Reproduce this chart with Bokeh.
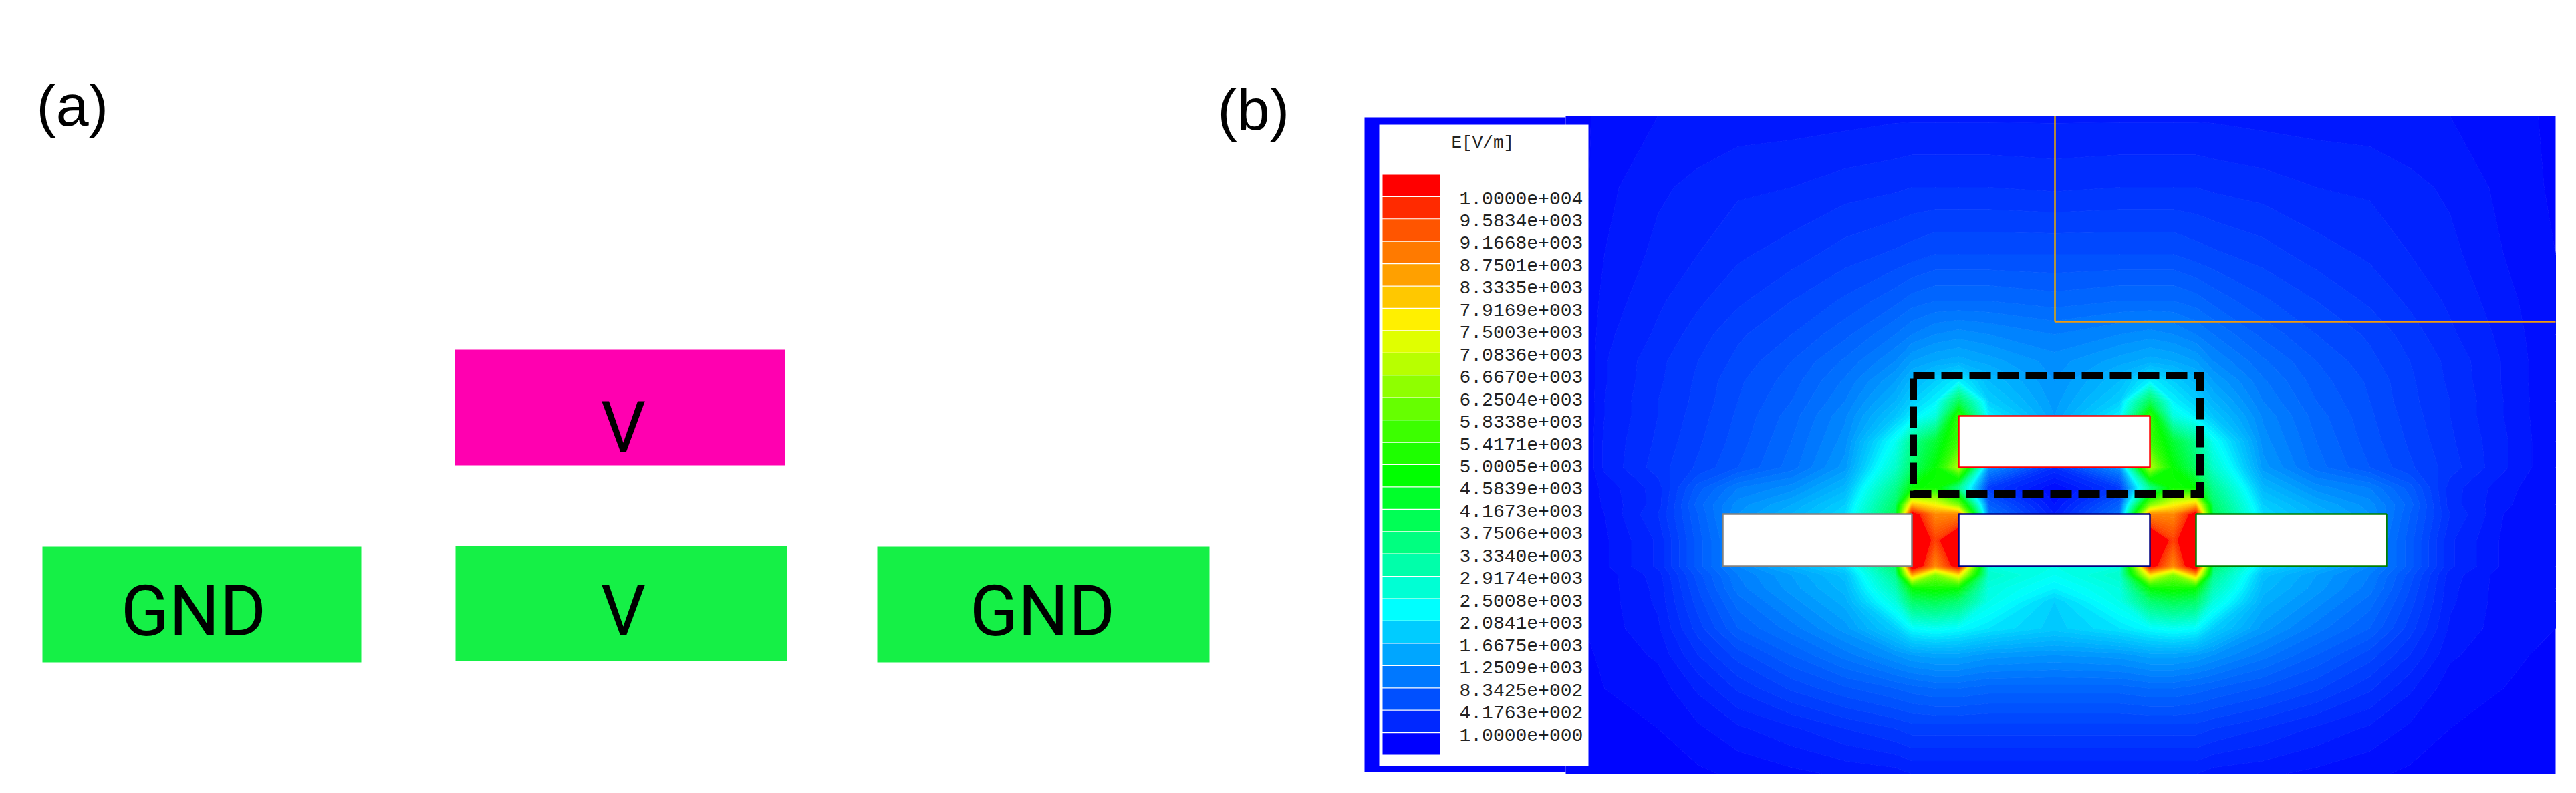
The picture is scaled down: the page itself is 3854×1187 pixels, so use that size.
from bokeh.core.properties import value
from bokeh.embed import file_html
from bokeh.plotting import figure
from bokeh.resources import INLINE
import numpy as np

# panel (a), electrode layout
a_names = ["V", "GND", "V", "GND"]
a_left = [680, 63, 681, 1312]
a_right = [1174, 540, 1177, 1809]
a_top = [523, 818, 817, 818]
a_bottom = [696, 991, 989, 991]
a_colors = ["#ff00b0", "#15f046", "#15f046", "#15f046"]
a_label_x = [932, 289, 932, 1559]
a_label_y = [639, 914, 914, 914]

# panel (b), conductors on top of the field
b_left = [2930, 2930, 2577, 3285]
b_right = [3216, 3216, 2860, 3570]
b_top = [622, 769, 769, 769]
b_bottom = [699, 847, 847, 847]
b_edges = ["#ff0000", "#000080", "#808080", "#008000"]

# field plot scale, top to bottom
scale_labels = [
    "1.0000e+004", "9.5834e+003", "9.1668e+003", "8.7501e+003", "8.3335e+003",
    "7.9169e+003", "7.5003e+003", "7.0836e+003", "6.6670e+003", "6.2504e+003",
    "5.8338e+003", "5.4171e+003", "5.0005e+003", "4.5839e+003", "4.1673e+003",
    "3.7506e+003", "3.3340e+003", "2.9174e+003", "2.5008e+003", "2.0841e+003",
    "1.6675e+003", "1.2509e+003", "8.3425e+002", "4.1763e+002", "1.0000e+000",
]
scale_colors = [
    "#ff0000", "#ff2a00", "#ff5500", "#ff7a00", "#ffa000", "#ffc800", "#fff000",
    "#e0ff00", "#b8ff00", "#8fff00", "#66ff00", "#3cff00", "#1eff00", "#00ff00",
    "#00ff2a", "#00ff55", "#00ff80", "#00ffaa", "#00ffd4", "#00ffff", "#00ccff",
    "#00a6ff", "#0078ff", "#0050ff", "#0028ff", "#0000ff",
]

# |E| in kV/m, on an uneven grid (finer around the gaps)
field_x = [2342, 2370, 2400, 2480, 2540, 2600, 2680, 2760, 2835, 2860, 2895, 2930, 2975,
           3073, 3171, 3216, 3251, 3285, 3311, 3385, 3465, 3545, 3605, 3665, 3745, 3823]
field_y = [173, 280, 380, 450, 500, 540, 570, 600, 622, 660, 699, 730, 755, 769, 808, 847,
           860, 880, 900, 940, 980, 1030, 1090, 1158]
field_kv = [
    [.05, .08, .14, .20, .22, .24, .25, .26, .28, .28, .28, .28, .28, .28, .28, .28, .28, .28, .28, .26, .25, .24, .22, .20, .14, .08],
    [.05, .08, .17, .28, .33, .38, .40, .45, .48, .50, .50, .50, .50, .48, .50, .50, .50, .50, .48, .45, .40, .38, .33, .28, .17, .08],
    [.05, .10, .20, .33, .40, .48, .55, .65, .72, .75, .80, .80, .80, .80, .80, .80, .80, .75, .72, .65, .55, .48, .40, .33, .20, .10],
    [.05, .10, .24, .38, .48, .58, .70, .82, .97, 1.05, 1.1, 1.1, 1.1, 1.05, 1.1, 1.1, 1.1, 1.05, .97, .82, .70, .58, .48, .38, .24, .10],
    [.05, .10, .27, .42, .55, .68, .80, .97, 1.2, 1.3, 1.4, 1.45, 1.4, 1.3, 1.4, 1.45, 1.4, 1.3, 1.2, .97, .80, .68, .55, .42, .27, .10],
    [.05, .10, .29, .47, .60, .73, .90, 1.12, 1.4, 1.6, 1.7, 1.75, 1.65, 1.45, 1.65, 1.75, 1.7, 1.6, 1.4, 1.12, .90, .73, .60, .47, .29, .10],
    [.05, .10, .29, .48, .62, .78, .95, 1.22, 1.6, 1.85, 2.1, 2.4, 1.9, 1.5, 1.9, 2.4, 2.1, 1.85, 1.6, 1.22, .95, .78, .62, .48, .29, .10],
    [.05, .10, .30, .50, .63, .80, 1.0, 1.3, 1.8, 2.1, 2.4, 4.2, 2.1, 1.55, 2.1, 4.2, 2.4, 2.1, 1.8, 1.3, 1.0, .80, .63, .50, .30, .10],
    [.05, .10, .30, .50, .65, .82, 1.05, 1.38, 2.0, 2.35, 2.8, 5.6, 2.4, 1.6, 2.4, 5.6, 2.8, 2.35, 2.0, 1.38, 1.05, .82, .65, .50, .30, .10],
    [.05, .10, .32, .52, .68, .85, 1.1, 1.45, 2.6, 3.6, 4.5, 5.8, 1.6, 1.0, 1.6, 5.8, 4.5, 3.6, 2.6, 1.45, 1.1, .85, .68, .52, .32, .10],
    [.05, .10, .32, .55, .72, .90, 1.15, 1.55, 3.0, 4.0, 5.0, 7.0, 1.5, .50, 1.5, 7.0, 5.0, 4.0, 3.0, 1.55, 1.15, .90, .72, .55, .32, .10],
    [.05, .10, .24, .45, .95, 1.3, 1.45, 1.85, 3.6, 5.0, 5.2, 3.6, .60, .10, .60, 3.6, 5.2, 5.0, 3.6, 1.85, 1.45, 1.3, .95, .45, .24, .10],
    [.05, .10, .22, .45, 1.05, 1.45, 1.7, 2.1, 4.0, 8.5, 7.8, 6.5, 1.0, .20, 1.0, 6.5, 7.8, 8.5, 4.0, 2.1, 1.7, 1.45, 1.05, .45, .22, .10],
    [.05, .10, .20, .50, 1.0, 1.5, 1.8, 2.2, 4.2, 10.5, 9.0, 9.0, 1.2, .30, 1.2, 9.0, 9.0, 10.5, 4.2, 2.2, 1.8, 1.5, 1.0, .50, .20, .10],
    [.05, .10, .18, .42, .95, 1.4, 1.4, 1.4, 1.4, 11.0, 9.8, 11.0, 1.4, 1.4, 1.4, 11.0, 9.8, 11.0, 1.4, 1.4, 1.4, 1.4, .95, .42, .18, .10],
    [.05, .10, .18, .42, .95, 1.4, 1.8, 2.2, 4.0, 11.0, 9.0, 10.5, 2.8, 2.7, 2.8, 10.5, 9.0, 11.0, 4.0, 2.2, 1.8, 1.4, .95, .42, .18, .10],
    [.05, .10, .15, .35, .85, 1.3, 1.6, 1.95, 3.6, 8.6, 6.5, 8.0, 3.0, 2.6, 3.0, 8.0, 6.5, 8.6, 3.6, 1.95, 1.6, 1.3, .85, .35, .15, .10],
    [.05, .10, .15, .33, .80, 1.25, 1.55, 1.85, 3.2, 5.0, 5.2, 5.0, 2.8, 2.4, 2.8, 5.0, 5.2, 5.0, 3.2, 1.85, 1.55, 1.25, .80, .33, .15, .10],
    [.05, .10, .15, .32, .75, 1.15, 1.45, 1.75, 2.8, 4.0, 4.2, 3.9, 2.7, 2.1, 2.7, 3.9, 4.2, 4.0, 2.8, 1.75, 1.45, 1.15, .75, .32, .15, .10],
    [.05, .10, .15, .28, .65, 1.0, 1.25, 1.55, 2.1, 2.5, 2.6, 2.5, 2.3, 2.05, 2.3, 2.5, 2.6, 2.5, 2.1, 1.55, 1.25, 1.0, .65, .28, .15, .10],
    [.05, .08, .12, .22, .50, .75, 1.0, 1.25, 1.5, 1.6, 1.65, 1.65, 1.55, 1.5, 1.55, 1.65, 1.65, 1.6, 1.5, 1.25, 1.0, .75, .50, .22, .12, .08],
    [.05, .06, .10, .14, .32, .52, .72, .88, 1.0, 1.05, 1.1, 1.1, 1.05, 1.05, 1.05, 1.1, 1.1, 1.05, 1.0, .88, .72, .52, .32, .14, .10, .06],
    [.05, .05, .06, .10, .18, .28, .38, .50, .60, .65, .65, .65, .65, .65, .65, .65, .65, .65, .60, .50, .38, .28, .18, .10, .06, .05],
    [.05, .05, .05, .05, .08, .12, .17, .22, .25, .30, .30, .30, .30, .30, .30, .30, .30, .30, .25, .22, .17, .12, .08, .05, .05, .05],
]


def field_ramp():
    # the solver shades smoothly between its scale colours
    stops = [float(s) for s in scale_labels][::-1]
    rgb = np.array([[int(c[i:i + 2], 16) for i in (1, 3, 5)] for c in scale_colors[:0:-1]], dtype=float)
    levels = np.concatenate([np.arange(0, 10000, 100.0), [10000, 13000]])
    def color_at(v):
        return "#%02x%02x%02x" % tuple(int(round(np.interp(v, stops, rgb[:, k]))) for k in range(3))
    fills = [color_at((a + b) / 2) if b <= 10000 else "#ff0000" for a, b in zip(levels[:-1], levels[1:])]
    lines = [color_at(v) if v <= 10000 else "#ff0000" for v in levels]
    return levels, fills, lines


def draw_panel_a(p):
    p.quad(left=a_left, right=a_right, top=a_top, bottom=a_bottom, fill_color=a_colors, line_color=None)
    p.text(x=a_label_x, y=a_label_y, text=a_names, text_font=value("Roboto"), text_font_size="106px",
           text_align="center", text_baseline="middle", text_color="#000000")
    p.text(x=[54], y=[157], text=["(a)"], text_font=value("Liberation Sans"), text_font_size="88px",
           text_baseline="middle", text_color="#000000")


def draw_panel_b(p):
    # legend block sits slightly inside the field height
    p.quad(left=[2041], right=[2342], top=[175], bottom=[1155], fill_color="#0000ff", line_color=None)
    levels, fills, lines = field_ramp()
    z = np.array(field_kv) * 1000
    p.contour(field_x, field_y, z, levels, fill_color=fills, line_color=lines, line_width=1)

    # legend
    p.quad(left=[2063], right=[2376], top=[186], bottom=[1146], fill_color="#ffffff", line_color=None)
    tops = [261 + i * 33.43 for i in range(len(scale_colors))]
    p.quad(left=2068, right=2154, top=tops, bottom=[t + 32.2 for t in tops], fill_color=scale_colors, line_color=None)
    p.text(x=[2171], y=[213], text=["E[V/m]"], text_font=value("Liberation Mono"), text_font_size="26px",
           text_baseline="middle", text_color="#222222")
    label_y = [296 + i * 33.46 for i in range(len(scale_labels))]
    p.text(x=2183, y=label_y, text=scale_labels, text_font=value("Liberation Mono"), text_font_size="28px",
           text_baseline="middle", text_color="#222222")

    # conductors
    p.quad(left=b_left, right=b_right, top=b_top, bottom=b_bottom, fill_color="#ffffff",
           line_color=b_edges, line_width=2.5)

    # air box edge and dashed region
    p.line([3074, 3074], [173, 481], line_color="#e8a800", line_width=2.5)
    p.line([3074, 3823], [481, 481], line_color="#f09a10", line_width=2.5)
    p.line([2862, 3291, 3291, 2862, 2862], [562, 562, 739, 739, 562], line_color="#000000", line_width=11,
           line_dash=[32, 10], line_join="miter")
    p.text(x=[1821], y=[163], text=["(b)"], text_font=value("Liberation Sans"), text_font_size="88px",
           text_baseline="middle", text_color="#000000")


def main():
    # one canvas, ranges in picture pixels so both panels share a scale
    p = figure(width=3838, height=1171, x_range=(0, 3838), y_range=(1171, 0), min_border=0,
               output_backend="svg", toolbar_location=None)
    p.axis.visible = False
    p.grid.visible = False
    p.outline_line_color = None
    draw_panel_a(p)
    draw_panel_b(p)
    open("out.html", "w").write(file_html(p, INLINE))


if __name__ == "__main__":
    main()
